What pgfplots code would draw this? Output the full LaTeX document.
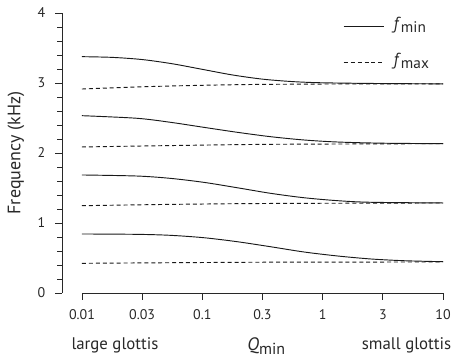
\documentclass[border=0pt]{standalone}
\usepackage{fontspec}
\setmainfont{PT Sans}
\usepackage{pgfplots}
\pgfplotsset{compat=1.18}
\definecolor{txt}{RGB}{40,40,40}
\definecolor{ln}{RGB}{25,25,25}
\newcommand{\sub}[2]{\raisebox{-0.4ex}{\fontsize{#1}{#1}\selectfont #2}}
\begin{document}
\begin{tikzpicture}
\begin{axis}[
  scale only axis,
  width=285.75pt, height=210pt,
  xmin=-2.166, xmax=1, ymin=0, ymax=4,
  axis lines=left,
  axis line style={-, draw=txt, line width=0.6pt},
  x axis line style={draw=none},
  tick align=outside,
  tick style={draw=txt, line width=0.6pt},
  major tick length=5pt,
  minor tick length=3.6pt,
  xtick={-2,-1.5,-1,-0.5,0,0.5,1},
  xticklabels={0.01,0.03,0.1,0.3,1,3,10},
  ytick={0,1,2,3,4},
  minor y tick num=4,
  /pgf/number format/assume math mode=true,
  every tick label/.append style={font=\fontsize{10.5}{12}\selectfont, text=txt},
  yticklabel style={xshift=-4pt},
  xticklabel style={yshift=-4pt},
  clip=false,
  legend cell align=left,
  legend style={draw=none, fill=none, at={(rel axis cs:0.7375,0.995)}, anchor=north west,
    inner sep=0pt, row sep=10pt, font=\fontsize{13}{14}\selectfont, text=txt,
    nodes={inner sep=1pt, text height=10pt, text depth=5pt}},
  legend image code/.code={\draw[#1] (0pt,0pt) -- (30pt,0pt); \path (36pt,0pt);},
]
\addplot[ln, line width=0.7pt, smooth] coordinates {(-2,3.376) (-1.75,3.366) (-1.5,3.335) (-1.25,3.275) (-1.0,3.195) (-0.75,3.115) (-0.5,3.055) (-0.25,3.02) (0,3.003) (0.5,2.992) (1,2.988)};
\addlegendentry{\textit{f}\sub{11.5}{min}}
\addplot[ln, line width=0.7pt, smooth, dash pattern=on 3pt off 2.2pt] coordinates {(-2,2.914) (-1.6,2.94) (-1.267,2.957) (-0.85,2.972) (-0.433,2.981) (0.3,2.987) (1,2.988)};
\addlegendentry{\textit{f}\sub{11.5}{max}}
\addplot[ln, line width=0.7pt, smooth] coordinates {(-2,2.533) (-1.544,2.496) (-1.267,2.439) (-0.989,2.367) (-0.711,2.296) (-0.433,2.233) (-0.156,2.186) (0.122,2.157) (0.5,2.14) (1,2.133)};
\addplot[ln, line width=0.7pt, smooth, dash pattern=on 3pt off 2.2pt] coordinates {(-2,2.086) (-1.3,2.105) (-0.433,2.124) (1,2.133)};
\addplot[ln, line width=0.7pt, smooth] coordinates {(-2,1.686) (-1.544,1.671) (-1.267,1.638) (-0.989,1.581) (-0.711,1.504) (-0.433,1.424) (-0.156,1.361) (0.122,1.319) (0.4,1.296) (1,1.286)};
\addplot[ln, line width=0.7pt, smooth, dash pattern=on 3pt off 2.2pt] coordinates {(-2,1.247) (-1.3,1.265) (-0.433,1.279) (1,1.286)};
\addplot[ln, line width=0.7pt, smooth] coordinates {(-2,0.843) (-1.544,0.838) (-1.267,0.824) (-0.989,0.790) (-0.711,0.733) (-0.433,0.661) (-0.156,0.586) (0.122,0.529) (0.4,0.486) (0.678,0.461) (1,0.447)};
\addplot[ln, line width=0.7pt, smooth, dash pattern=on 3pt off 2.2pt] coordinates {(-2,0.424) (-1.3,0.432) (-0.433,0.44) (1,0.443)};
\draw[txt, line width=0.6pt] (axis cs:-2,0) -- (axis cs:1,0);
\node[text=txt, font=\fontsize{12.6}{14}\selectfont, anchor=base] at ([yshift=-42.75pt]axis cs:-1.726,0) {large glottis};
\node[text=txt, font=\fontsize{12.6}{14}\selectfont, anchor=base] at ([yshift=-42.75pt]axis cs:0.697,0) {small glottis};
\node[text=txt, font=\fontsize{13.5}{15}\selectfont, anchor=base west, inner sep=0pt] at ([yshift=-43.5pt]axis cs:-0.628,0) {\textit{Q}\sub{12}{min}};
\node[text=txt, font=\fontsize{13.5}{15}\selectfont, rotate=90, anchor=center] at ([xshift=-34.5pt]rel axis cs:0,0.5) {Frequency (kHz)};
\coordinate (bl) at (rel axis cs:0,0);
\coordinate (tr) at (rel axis cs:1,1);
\end{axis}
\pgfresetboundingbox
\path[use as bounding box] ([shift={(-46.5pt,-48.75pt)}]bl) rectangle ([shift={(7.5pt,9.75pt)}]tr);
\end{tikzpicture}
\end{document}
